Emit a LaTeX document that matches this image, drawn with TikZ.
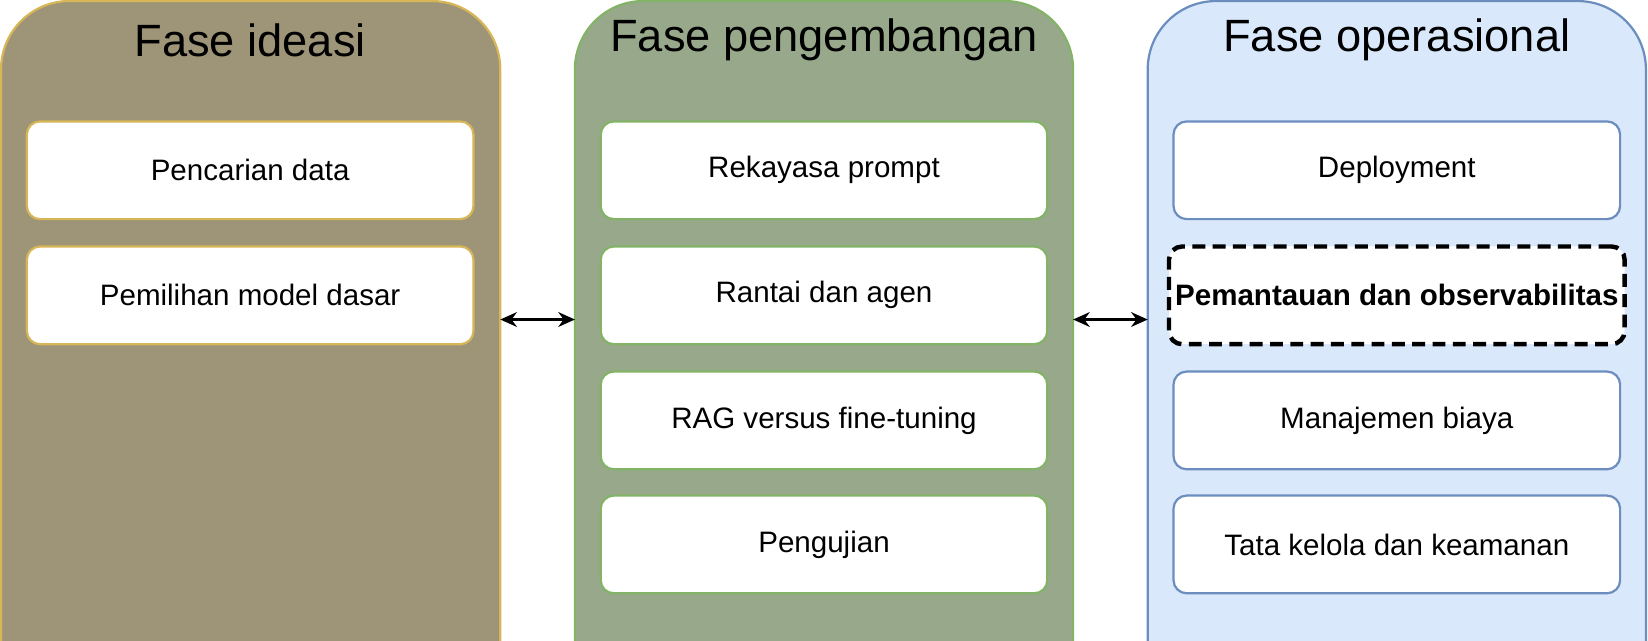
\documentclass[tikz,border=0pt]{standalone}
\usepackage{fontspec}
\setmainfont{Liberation Sans}
\usetikzlibrary{arrows.meta}
\begin{document}
\begin{tikzpicture}[x=0.02cm,y=-0.02cm,
  panel/.style={rounded corners=1.3cm,line width=1.2pt},
  box/.style={draw,fill=white,rounded corners=0.25cm,line width=1.2pt,minimum width=8.5cm,minimum height=1.86cm,font=\fontsize{16}{19}\selectfont},
  title/.style={font=\fontsize{24.5}{28}\selectfont},
  arr/.style={{Stealth[length=9pt,width=8pt]}-{Stealth[length=9pt,width=8pt]},line width=1.3pt}]
\useasboundingbox (0,0) rectangle (1568,609);
\clip (0,0) rectangle (1568,609);
\draw[panel,fill={rgb,255:red,158;green,148;blue,120},draw={rgb,255:red,214;green,182;blue,86}] (1,1) rectangle (476,680);
\draw[panel,fill={rgb,255:red,151;green,169;blue,138},draw={rgb,255:red,130;green,179;blue,102}] (547,1) rectangle (1021,680);
\draw[panel,fill={rgb,255:red,218;green,232;blue,252},draw={rgb,255:red,108;green,142;blue,191}] (1092,1) rectangle (1566,680);
\node[title] (t1) at (238,38) {Fase ideasi};
\node[title] (t2) at (784,38) {Fase pengembangan};
\node[title] (t3) at (1329,38) {Fase operasional};
\tikzset{b1/.style={box,draw={rgb,255:red,214;green,182;blue,86}},
 b2/.style={box,draw={rgb,255:red,130;green,179;blue,102}},
 b3/.style={box,draw={rgb,255:red,108;green,142;blue,191}}}
\node[b1] (a1) at (238,162) {Pencarian data};
\node[b1] (a2) at (238,281) {Pemilihan model dasar};
\node[b2] (b1) at (784,162) {Rekayasa prompt};
\node[b2] (b2) at (784,281) {Rantai dan agen};
\node[b2] (b3) at (784,400) {RAG versus fine-tuning};
\node[b2] (b4) at (784,518) {Pengujian};
\node[b3] (c1) at (1329,162) {Deployment};
\node[box,draw=black,dash pattern=on 7pt off 4pt,line width=2.4pt,font=\fontsize{16}{19}\selectfont\bfseries] (c2) at (1329,281) {Pemantauan dan observabilitas};
\node[b3] (c3) at (1329,400) {Manajemen biaya};
\node[b3] (c4) at (1329,518) {Tata kelola dan keamanan};
\coordinate (p1r) at (476,304); \coordinate (p2l) at (547,304);
\coordinate (p2r) at (1021,304); \coordinate (p3l) at (1092,304);
\draw[arr] (p1r) -- (p2l);
\draw[arr] (p2r) -- (p3l);
\end{tikzpicture}
\end{document}
